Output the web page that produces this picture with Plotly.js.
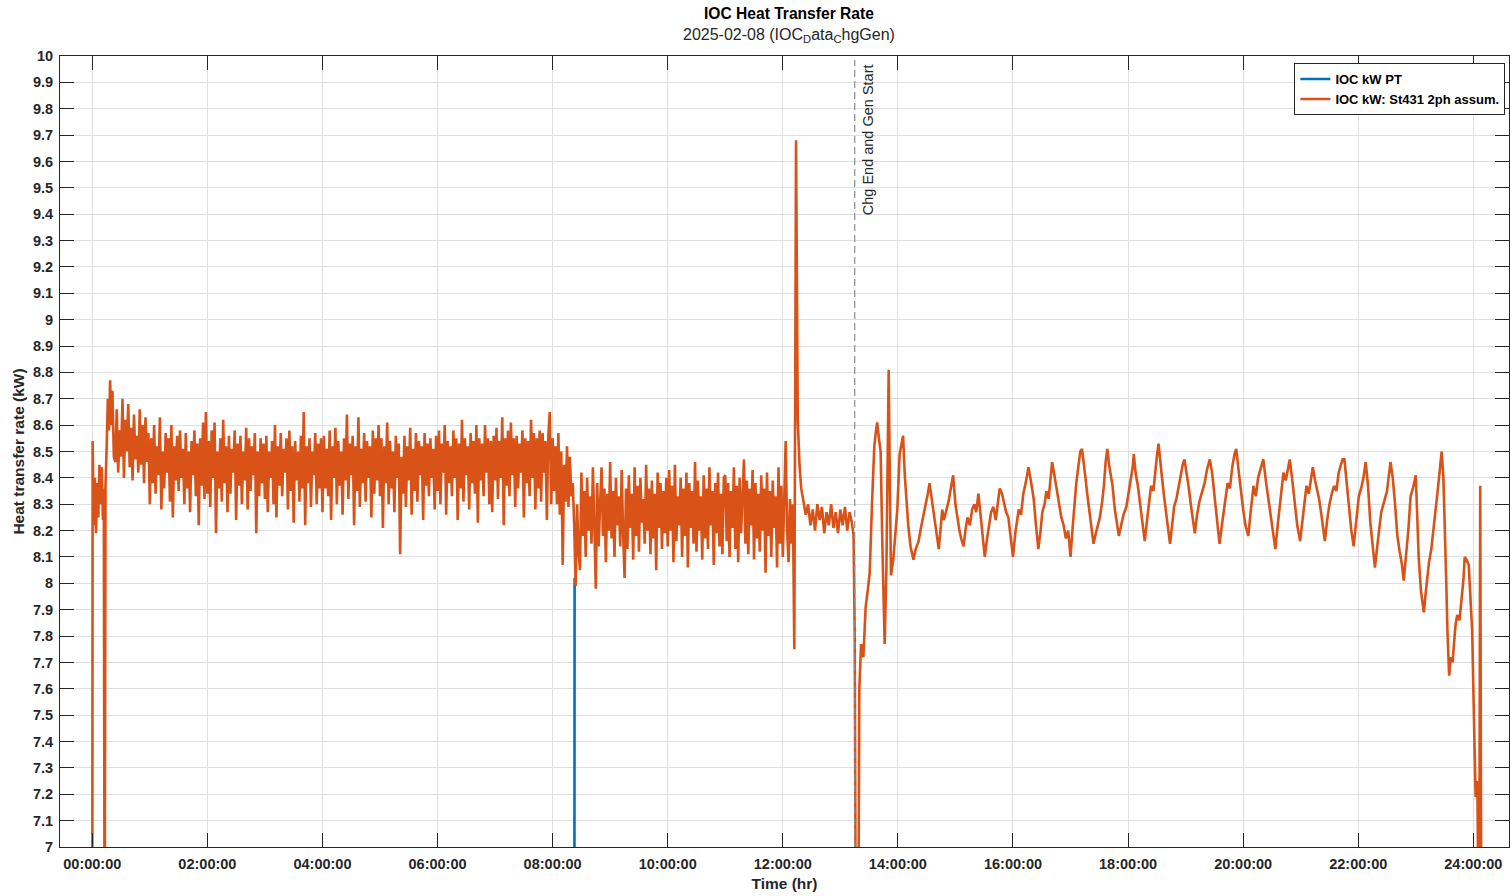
<!DOCTYPE html>
<html>
<head>
<meta charset="utf-8">
<script src="https://cdn.plot.ly/plotly-3.0.1.min.js"></script>
<style>
  html, body { margin: 0; padding: 0; background: #ffffff; }
  #chart { width: 1510px; height: 896px; }
</style>
</head>
<body>
<div id="chart"></div>
<script>
// ---------------- DATA ----------------
const chartTitle = 'IOC Heat Transfer Rate';
const chartSubtitle = '2025-02-08 (IOC<sub>D</sub>ata<sub>C</sub>hgGen)';
const xAxisTitle = 'Time (hr)';
const yAxisTitle = 'Heat transfer rate (kW)';
const seriesNames = ['IOC kW PT', 'IOC kW: St431 2ph assum.'];

// Blue series (IOC kW PT): only its start is visible, the rest lies under the orange trace
const ptHours = [8.378, 8.382, 8.39];
const ptKW    = [6.50, 8.02, 8.00];

// Orange series, start-up part (explicit times, hours)
const earlyHours = [0.000, 0.006, 0.025, 0.045, 0.065, 0.085, 0.105, 0.125, 0.145, 0.165,
                    0.185, 0.200, 0.215, 0.230, 0.250, 0.270, 0.290, 0.310, 0.330, 0.350, 0.375];
const earlyKW    = [6.50, 8.54, 8.22, 8.40, 8.19, 8.38, 8.25, 8.45, 8.30, 8.44,
                    8.24, 8.36, 6.50, 8.37, 8.52, 8.70, 8.58, 8.77, 8.60, 8.73, 8.48];

// Orange series, noisy charging part: samples every 1.5 minutes from 0.400 h to 12.175 h
const noisyStartHour = 0.40;
const noisyStepHour = 0.025;
const noisyKW = [
  // 0.400 - 0.975
  8.46, 8.66, 8.42, 8.58, 8.48, 8.70, 8.40, 8.62, 8.50, 8.68, 8.44, 8.59, 8.39, 8.64, 8.47, 8.56, 8.42, 8.66, 8.45, 8.60, 8.38, 8.63, 8.46, 8.57,
  // 1 h
  8.30, 8.55, 8.38, 8.60, 8.34, 8.52, 8.41, 8.63, 8.28, 8.50, 8.36, 8.57, 8.42, 8.55, 8.31, 8.60, 8.25, 8.52, 8.39, 8.56,
  8.35, 8.58, 8.40, 8.51, 8.30, 8.57, 8.36, 8.50, 8.27, 8.54, 8.41, 8.58, 8.33, 8.53, 8.22, 8.55, 8.37, 8.61, 8.32, 8.65,
  // 2 h
  8.34, 8.54, 8.29, 8.58, 8.40, 8.61, 8.19, 8.50, 8.36, 8.55, 8.31, 8.62, 8.38, 8.52, 8.27, 8.56, 8.34, 8.51, 8.42, 8.58,
  8.24, 8.53, 8.37, 8.56, 8.30, 8.50, 8.39, 8.59, 8.28, 8.55, 8.35, 8.52, 8.41, 8.57, 8.19, 8.50, 8.33, 8.55, 8.38, 8.53,
  // 3 h
  8.32, 8.56, 8.27, 8.50, 8.40, 8.54, 8.30, 8.60, 8.25, 8.52, 8.37, 8.57, 8.33, 8.51, 8.42, 8.55, 8.28, 8.58, 8.35, 8.52,
  8.23, 8.54, 8.39, 8.50, 8.31, 8.56, 8.36, 8.65, 8.22, 8.52, 8.38, 8.55, 8.29, 8.50, 8.41, 8.57, 8.30, 8.53, 8.36, 8.55,
  // 4 h
  8.27, 8.56, 8.36, 8.51, 8.33, 8.58, 8.24, 8.52, 8.40, 8.59, 8.30, 8.54, 8.37, 8.50, 8.26, 8.55, 8.39, 8.64, 8.32, 8.53,
  8.41, 8.56, 8.22, 8.52, 8.35, 8.63, 8.29, 8.51, 8.38, 8.57, 8.31, 8.54, 8.40, 8.52, 8.25, 8.58, 8.34, 8.55, 8.39, 8.60,
  // 5 h
  8.33, 8.55, 8.21, 8.52, 8.38, 8.61, 8.30, 8.54, 8.36, 8.50, 8.27, 8.56, 8.40, 8.53, 8.11, 8.48, 8.34, 8.56, 8.29, 8.52,
  8.39, 8.59, 8.26, 8.51, 8.35, 8.57, 8.31, 8.54, 8.41, 8.52, 8.24, 8.57, 8.37, 8.53, 8.33, 8.55, 8.40, 8.51, 8.28, 8.56,
  // 6 h
  8.35, 8.58, 8.30, 8.53, 8.42, 8.60, 8.26, 8.54, 8.38, 8.52, 8.33, 8.58, 8.40, 8.55, 8.24, 8.53, 8.36, 8.62, 8.31, 8.55,
  8.41, 8.52, 8.28, 8.57, 8.38, 8.54, 8.34, 8.60, 8.23, 8.55, 8.39, 8.53, 8.33, 8.60, 8.42, 8.55, 8.30, 8.54, 8.27, 8.56,
  // 7 h
  8.39, 8.59, 8.32, 8.54, 8.40, 8.63, 8.22, 8.55, 8.37, 8.58, 8.33, 8.61, 8.41, 8.55, 8.29, 8.56, 8.36, 8.53, 8.42, 8.58,
  8.25, 8.55, 8.38, 8.54, 8.33, 8.62, 8.40, 8.57, 8.28, 8.55, 8.36, 8.58, 8.31, 8.57, 8.42, 8.54, 8.24, 8.56, 8.65, 8.30,
  // 8.000 - 8.325
  8.55, 8.35, 8.52, 8.30, 8.57, 8.26, 8.50, 8.07, 8.45, 8.31, 8.52, 8.29, 8.48, 8.33,
  // 8.350 - 8.975
  8.38, 8.22, 7.99, 8.30, 8.12, 8.05, 8.42, 8.18, 8.35, 8.10, 8.40, 8.20, 8.33, 8.15, 8.44, 8.22, 7.98, 8.38, 8.14, 8.30,
  8.44, 8.18, 8.36, 8.08, 8.34, 8.20,
  // 9 h
  8.46, 8.17, 8.35, 8.10, 8.40, 8.22, 8.33, 8.14, 8.43, 8.19, 8.02, 8.36, 8.13, 8.41, 8.21, 8.34, 8.09, 8.44, 8.18, 8.37,
  8.12, 8.40, 8.23, 8.32, 8.15, 8.45, 8.20, 8.36, 8.11, 8.39, 8.17, 8.34, 8.05, 8.42, 8.21, 8.38, 8.13, 8.35, 8.19, 8.40,
  // 10 h
  8.14, 8.43, 8.20, 8.37, 8.08, 8.45, 8.16, 8.33, 8.22, 8.40, 8.10, 8.36, 8.18, 8.42, 8.06, 8.38, 8.21, 8.35, 8.15, 8.46,
  8.12, 8.39, 8.20, 8.33, 8.09, 8.41, 8.17, 8.36, 8.13, 8.44, 8.22, 8.35, 8.07, 8.38, 8.19, 8.42, 8.14, 8.34, 8.11, 8.40,
  // 11 h
  8.41, 8.16, 8.38, 8.10, 8.35, 8.21, 8.44, 8.13, 8.37, 8.08, 8.40, 8.19, 8.33, 8.47, 8.15, 8.39, 8.11, 8.36, 8.22, 8.43,
  8.09, 8.38, 8.17, 8.34, 8.12, 8.41, 8.20, 8.36, 8.04, 8.42, 8.18, 8.35, 8.10, 8.39, 8.21, 8.33, 8.06, 8.44, 8.15, 8.37,
  // 12.000 - 12.175
  8.10, 8.35, 8.54, 8.20, 8.08, 8.32, 8.15, 8.30
];

// Orange series, spike, transition and generation part (explicit times, hours)
const lateHours = [
  12.20, 12.23, 12.26, 12.29, 12.32, 12.36, 12.40, 12.44, 12.48, 12.52, 12.56, 12.60, 12.64, 12.68, 12.72, 12.76, 12.80, 12.84, 12.88, 12.92,
  12.96, 13.00, 13.04, 13.08, 13.12, 13.16, 13.20, 13.23, 13.25, 13.27, 13.31, 13.33, 13.36, 13.40, 13.44, 13.48, 13.51, 13.55, 13.59, 13.62,
  13.64, 13.67, 13.70, 13.73, 13.77, 13.80, 13.82, 13.84, 13.86, 13.88, 13.92, 13.96, 13.99, 14.03, 14.06, 14.09, 14.12, 14.15, 14.18, 14.22,
  14.27, 14.31, 14.36, 14.40, 14.44, 14.48, 14.52, 14.55, 14.58, 14.62, 14.66, 14.71, 14.74, 14.77, 14.80, 14.84, 14.88, 14.92, 14.96, 15.00,
  15.03, 15.07, 15.10, 15.14, 15.18, 15.21, 15.25, 15.29, 15.33, 15.36, 15.40, 15.44, 15.48, 15.51, 15.55, 15.59, 15.62, 15.66, 15.70, 15.74,
  15.77, 15.81, 15.85, 15.88, 15.92, 15.96, 16.00, 16.04, 16.07, 16.10, 16.14, 16.18, 16.22, 16.27, 16.31, 16.36, 16.40, 16.44, 16.48, 16.51,
  16.55, 16.58, 16.62, 16.65, 16.68, 16.72, 16.77, 16.81, 16.84, 16.88, 16.92, 16.96, 17.00, 17.04, 17.07, 17.10, 17.14, 17.17, 17.20, 17.23,
  17.26, 17.29, 17.33, 17.36, 17.40, 17.44, 17.48, 17.51, 17.55, 17.58, 17.61, 17.64, 17.67, 17.70, 17.73, 17.77, 17.80, 17.84, 17.88, 17.92,
  17.97, 18.01, 18.05, 18.08, 18.10, 18.13, 18.17, 18.21, 18.25, 18.29, 18.33, 18.37, 18.40, 18.44, 18.47, 18.50, 18.53, 18.56, 18.59, 18.62,
  18.66, 18.70, 18.73, 18.77, 18.80, 18.84, 18.88, 18.92, 18.95, 18.98, 19.01, 19.05, 19.09, 19.12, 19.16, 19.20, 19.24, 19.29, 19.33, 19.37,
  19.42, 19.46, 19.50, 19.54, 19.59, 19.63, 19.67, 19.70, 19.73, 19.77, 19.81, 19.85, 19.88, 19.92, 19.96, 20.00, 20.04, 20.09, 20.13, 20.18,
  20.22, 20.26, 20.31, 20.35, 20.40, 20.44, 20.48, 20.52, 20.56, 20.60, 20.64, 20.67, 20.70, 20.74, 20.78, 20.81, 20.85, 20.90, 20.94, 20.99,
  21.03, 21.06, 21.10, 21.14, 21.18, 21.21, 21.25, 21.29, 21.32, 21.36, 21.42, 21.46, 21.50, 21.54, 21.58, 21.62, 21.66, 21.70, 21.73, 21.76,
  21.80, 21.84, 21.88, 21.92, 21.96, 22.01, 22.05, 22.09, 22.13, 22.17, 22.21, 22.25, 22.29, 22.33, 22.37, 22.40, 22.45, 22.50, 22.56, 22.60,
  22.64, 22.68, 22.72, 22.76, 22.79, 22.83, 22.87, 22.91, 22.95, 23.00, 23.03, 23.05, 23.09, 23.12, 23.14, 23.18, 23.23, 23.27, 23.30, 23.34,
  23.38, 23.42, 23.45, 23.48, 23.51, 23.53, 23.55, 23.58, 23.61, 23.64, 23.66, 23.69, 23.72, 23.76, 23.80, 23.83, 23.85, 23.88, 23.92, 23.95,
  23.98, 24.01, 24.04, 24.07, 24.10, 24.12, 24.14
];
const lateKW = [
  7.75, 9.68, 8.62, 8.45, 8.36, 8.31, 8.26, 8.30, 8.22, 8.28, 8.20, 8.30, 8.24, 8.29, 8.19, 8.27, 8.22, 8.30, 8.21, 8.27,
  8.19, 8.28, 8.22, 8.29, 8.20, 8.27, 8.23, 8.18, 7.80, 6.50, 6.50, 7.60, 7.77, 7.72, 7.91, 7.98, 8.04, 8.30, 8.52, 8.58,
  8.61, 8.55, 8.50, 8.15, 7.77, 8.05, 8.40, 8.81, 8.40, 8.03, 8.09, 8.20, 8.28, 8.49, 8.52, 8.56, 8.41, 8.30, 8.22, 8.14,
  8.09, 8.13, 8.16, 8.21, 8.25, 8.30, 8.34, 8.38, 8.33, 8.28, 8.21, 8.13, 8.20, 8.28, 8.24, 8.27, 8.31, 8.36, 8.41, 8.30,
  8.25, 8.20, 8.17, 8.14, 8.21, 8.25, 8.22, 8.28, 8.30, 8.27, 8.34, 8.25, 8.18, 8.10, 8.17, 8.22, 8.27, 8.29, 8.24, 8.31,
  8.36, 8.34, 8.30, 8.27, 8.25, 8.17, 8.10, 8.19, 8.24, 8.28, 8.26, 8.34, 8.38, 8.44, 8.39, 8.32, 8.22, 8.13, 8.20, 8.27,
  8.30, 8.35, 8.32, 8.40, 8.46, 8.41, 8.34, 8.30, 8.25, 8.22, 8.17, 8.20, 8.10, 8.22, 8.30, 8.38, 8.45, 8.50, 8.51, 8.44,
  8.40, 8.34, 8.27, 8.20, 8.15, 8.19, 8.23, 8.25, 8.31, 8.37, 8.46, 8.51, 8.45, 8.41, 8.37, 8.28, 8.23, 8.18, 8.22, 8.26,
  8.29, 8.35, 8.40, 8.44, 8.49, 8.42, 8.37, 8.30, 8.23, 8.16, 8.24, 8.31, 8.37, 8.35, 8.43, 8.48, 8.53, 8.45, 8.40, 8.34,
  8.26, 8.20, 8.15, 8.24, 8.29, 8.32, 8.37, 8.41, 8.45, 8.47, 8.43, 8.37, 8.30, 8.25, 8.19, 8.26, 8.31, 8.35, 8.38, 8.43,
  8.47, 8.42, 8.34, 8.27, 8.15, 8.22, 8.29, 8.33, 8.38, 8.36, 8.44, 8.49, 8.51, 8.43, 8.35, 8.28, 8.22, 8.18, 8.27, 8.37,
  8.33, 8.40, 8.44, 8.47, 8.38, 8.32, 8.25, 8.19, 8.13, 8.22, 8.30, 8.36, 8.42, 8.39, 8.44, 8.47, 8.40, 8.29, 8.22, 8.16,
  8.23, 8.30, 8.37, 8.34, 8.40, 8.44, 8.39, 8.35, 8.32, 8.26, 8.16, 8.24, 8.30, 8.34, 8.37, 8.35, 8.42, 8.45, 8.47, 8.47,
  8.38, 8.28, 8.20, 8.14, 8.22, 8.33, 8.36, 8.40, 8.46, 8.37, 8.23, 8.15, 8.06, 8.14, 8.22, 8.27, 8.31, 8.35, 8.46, 8.40,
  8.30, 8.18, 8.12, 8.07, 8.01, 8.10, 8.20, 8.33, 8.36, 8.41, 8.25, 8.10, 7.97, 7.92, 7.89, 7.98, 8.08, 8.13, 8.20, 8.27,
  8.35, 8.44, 8.50, 8.40, 8.20, 8.00, 7.82, 7.65, 7.72, 7.70, 7.76, 7.84, 7.88, 7.86, 7.95, 8.02, 8.10, 8.09, 8.07, 7.95,
  7.82, 7.50, 7.19, 7.25, 6.50, 8.37, 6.50
];

// Event marker
const eventHour = 13.25;
const eventLabel = 'Chg End and Gen Start';

// Axis ticks
const xTickHours  = [0, 2, 4, 6, 8, 10, 12, 14, 16, 18, 20, 22, 24];
const xTickLabels = ['00:00:00', '02:00:00', '04:00:00', '06:00:00', '08:00:00', '10:00:00', '12:00:00',
                     '14:00:00', '16:00:00', '18:00:00', '20:00:00', '22:00:00', '24:00:00'];
const yTickVals = [7, 7.1, 7.2, 7.3, 7.4, 7.5, 7.6, 7.7, 7.8, 7.9, 8, 8.1, 8.2, 8.3, 8.4, 8.5, 8.6, 8.7, 8.8, 8.9,
                   9, 9.1, 9.2, 9.3, 9.4, 9.5, 9.6, 9.7, 9.8, 9.9, 10];
const yTickLabels = ['7', '7.1', '7.2', '7.3', '7.4', '7.5', '7.6', '7.7', '7.8', '7.9', '8', '8.1', '8.2', '8.3', '8.4',
                     '8.5', '8.6', '8.7', '8.8', '8.9', '9', '9.1', '9.2', '9.3', '9.4', '9.5', '9.6', '9.7', '9.8', '9.9', '10'];
const xRange = [-0.561, 24.62];
const yRange = [7, 10];

// ---------------- BUILD ----------------
const noisyHours = noisyKW.map((_, i) => +(noisyStartHour + i * noisyStepHour).toFixed(3));
const orangeHours = earlyHours.concat(noisyHours, lateHours);
const orangeKW = earlyKW.concat(noisyKW, lateKW);

const FONT = 'Liberation Sans, Arial, Helvetica, sans-serif';
const INK = '#262626';
const GRID = '#dfdfdf';

const traces = [
  { x: ptHours, y: ptKW, type: 'scatter', mode: 'lines', name: seriesNames[0],
    line: { color: '#0072BD', width: 2.6 } },
  { x: orangeHours, y: orangeKW, type: 'scatter', mode: 'lines', name: seriesNames[1],
    line: { color: '#D95319', width: 2.6 } }
];

const axisCommon = {
  showline: true, linecolor: INK, linewidth: 1, mirror: 'allticks',
  ticks: 'inside', ticklen: 14, tickwidth: 1, tickcolor: INK,
  showgrid: true, gridcolor: GRID, gridwidth: 1, zeroline: false,
  tickfont: { family: FONT, size: 14.5, color: INK, weight: 'bold' }
};

const layout = {
  width: 1510, height: 896,
  margin: { l: 60, r: 1, t: 56, b: 49, pad: 0 },
  paper_bgcolor: '#ffffff', plot_bgcolor: '#ffffff',
  showlegend: true,
  xaxis: Object.assign({}, axisCommon, {
    range: xRange, tickmode: 'array', tickvals: xTickHours, ticktext: xTickLabels,
    ticklabelstandoff: 4,
    title: { text: xAxisTitle, standoff: 6, font: { family: FONT, size: 15.5, color: INK, weight: 'bold' } }
  }),
  yaxis: Object.assign({}, axisCommon, {
    range: yRange, tickmode: 'array', tickvals: yTickVals, ticktext: yTickLabels,
    ticklabelstandoff: 3,
    title: { text: yAxisTitle, standoff: 4, font: { family: FONT, size: 15.5, color: INK, weight: 'bold' } }
  }),
  legend: {
    x: 0.9975, xanchor: 'right', y: 0.991, yanchor: 'top',
    bgcolor: '#ffffff', bordercolor: INK, borderwidth: 1,
    font: { family: FONT, size: 13, color: '#000000', weight: 'bold' },
    tracegroupgap: 0
  },
  shapes: [
    { type: 'line', xref: 'x', yref: 'paper', x0: eventHour, x1: eventHour, y0: 0, y1: 0.995,
      line: { color: '#8c8c8c', width: 1.2, dash: '7px,4px' } }
  ],
  annotations: [
    { text: chartTitle, xref: 'paper', yref: 'paper', x: 0.503, y: 1.0531, xanchor: 'center', yanchor: 'middle',
      showarrow: false, font: { family: FONT, size: 15.6, color: '#000000', weight: 'bold' } },
    { text: chartSubtitle, xref: 'paper', yref: 'paper', x: 0.503, y: 1.0253, xanchor: 'center', yanchor: 'middle',
      showarrow: false, font: { family: FONT, size: 16, color: INK } },
    { text: eventLabel, xref: 'x', yref: 'paper', x: eventHour, y: 1, xshift: 13, yshift: -6,
      xanchor: 'center', yanchor: 'top', textangle: -90, showarrow: false,
      font: { family: FONT, size: 14.5, color: INK } }
  ]
};

Plotly.newPlot('chart', traces, layout, { staticPlot: true, displayModeBar: false });
</script>
</body>
</html>
